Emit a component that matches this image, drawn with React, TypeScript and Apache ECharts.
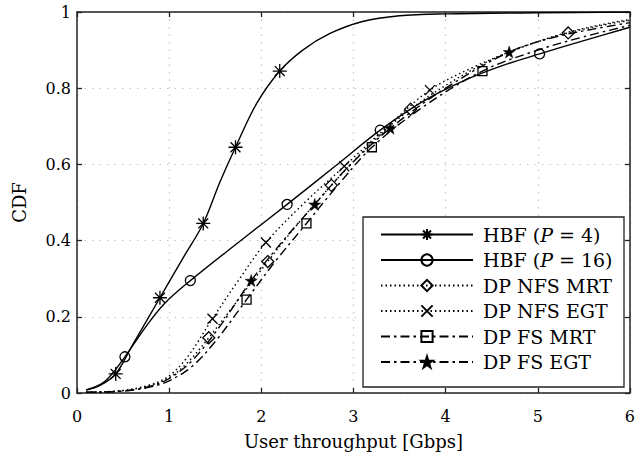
import React, { useEffect, useRef } from "react";
import * as echarts from "echarts";

// ---- Data ----
const seriesNames = [
  "HBF (P = 4)",
  "HBF (P = 16)",
  "DP NFS MRT",
  "DP NFS EGT",
  "DP FS MRT",
  "DP FS EGT",
];

const hbf4X = [0.1, 0.25, 0.42, 0.6, 0.9, 1.15, 1.37, 1.55, 1.72, 1.95, 2.2, 2.45, 2.74, 3.1, 3.5, 4.0, 5.0, 6.0];
const hbf4Y = [0.008, 0.02, 0.05, 0.125, 0.25, 0.354, 0.445, 0.553, 0.645, 0.76, 0.845, 0.9, 0.943, 0.975, 0.99, 0.995, 0.998, 1.0];
const hbf4Marks = [2, 4, 6, 8, 10];

const hbf16X = [0.1, 0.3, 0.52, 0.75, 0.95, 1.23, 1.75, 2.28, 2.8, 3.29, 3.75, 4.2, 4.6, 5.02, 5.5, 6.0];
const hbf16Y = [0.008, 0.03, 0.095, 0.175, 0.235, 0.295, 0.395, 0.495, 0.595, 0.69, 0.765, 0.82, 0.858, 0.89, 0.925, 0.96];
const hbf16Marks = [2, 5, 7, 9, 13];

const nfsMrtX = [0.1, 0.5, 0.8, 1.0, 1.2, 1.43, 1.75, 2.07, 2.4, 2.76, 3.15, 3.62, 4.3, 4.8, 5.33, 5.8, 6.0];
const nfsMrtY = [0.002, 0.006, 0.02, 0.04, 0.08, 0.145, 0.245, 0.345, 0.445, 0.545, 0.645, 0.745, 0.85, 0.905, 0.945, 0.97, 0.978];
const nfsMrtMarks = [5, 7, 9, 11, 14];

const nfsEgtX = [0.1, 0.5, 0.8, 1.0, 1.2, 1.47, 1.75, 2.05, 2.45, 2.9, 3.35, 3.83, 4.3, 4.8, 5.3, 5.8, 6.0];
const nfsEgtY = [0.002, 0.007, 0.022, 0.045, 0.095, 0.195, 0.295, 0.395, 0.495, 0.595, 0.695, 0.795, 0.855, 0.905, 0.945, 0.972, 0.98];
const nfsEgtMarks = [5, 7, 9, 11];

const fsMrtX = [0.1, 0.5, 0.8, 1.0, 1.25, 1.5, 1.84, 2.15, 2.49, 2.83, 3.2, 3.75, 4.4, 5.0, 5.5, 6.0];
const fsMrtY = [0.002, 0.005, 0.016, 0.032, 0.07, 0.135, 0.245, 0.345, 0.445, 0.545, 0.645, 0.75, 0.845, 0.9, 0.935, 0.965];
const fsMrtMarks = [6, 8, 10, 12];

const fsEgtX = [0.1, 0.5, 0.8, 1.0, 1.25, 1.55, 1.89, 2.22, 2.58, 2.95, 3.4, 4.0, 4.69, 5.2, 5.6, 6.0];
const fsEgtY = [0.002, 0.005, 0.018, 0.038, 0.085, 0.175, 0.295, 0.395, 0.495, 0.595, 0.695, 0.8, 0.895, 0.935, 0.955, 0.972];
const fsEgtMarks = [6, 8, 10, 12];

const xTicks = [0, 1, 2, 3, 4, 5, 6];
const yTicks = [0, 0.2, 0.4, 0.6, 0.8, 1];

// ---- Symbols ----
const ASTERISK = "path://M0,-10L0,10M-10,0L10,0M-7.07,-7.07L7.07,7.07M-7.07,7.07L7.07,-7.07";
const CROSS = "path://M-10,-10L10,10M-10,10L10,-10";
const STAR =
  "path://M0,-1L0.2235,-0.3074L0.951,-0.309L0.3614,0.1174L0.588,0.809L0,0.38L-0.588,0.809L-0.3614,0.1174L-0.951,-0.309L-0.2235,-0.3074Z";

const FONT = "DejaVu Serif";

function build(xs: number[], ys: number[], marks: number[]) {
  return xs.map((x, i) =>
    marks.includes(i) ? { value: [x, ys[i]] } : { value: [x, ys[i]], symbol: "none" }
  );
}

function makeSeries(
  name: string,
  xs: number[],
  ys: number[],
  marks: number[],
  symbol: string,
  symbolSize: number,
  lineType: any,
  filled: boolean
) {
  return {
    name,
    type: "line",
    data: build(xs, ys, marks),
    smooth: 0.35,
    symbol,
    symbolSize,
    showAllSymbol: true,
    lineStyle: { color: "#000", width: 1.4, type: lineType },
    itemStyle: {
      color: filled ? "#000" : "rgba(0,0,0,0)",
      borderColor: "#000",
      borderWidth: filled ? 0.5 : 1.3,
    },
    emphasis: { disabled: true },
    z: 2,
  };
}

export default function App() {
  const ref = useRef<HTMLDivElement>(null);

  useEffect(() => {
    if (!ref.current) return;
    const chart = echarts.init(ref.current, null, { renderer: "svg" });

    const axisCommon = {
      type: "value",
      axisLine: { show: true, onZero: false, lineStyle: { color: "#222", width: 1.5 } },
      axisTick: { show: true, inside: true, length: 5, lineStyle: { color: "#222", width: 1.3 } },
    };

    const option: any = {
      animation: false,
      backgroundColor: "#fff",
      textStyle: { fontFamily: FONT, color: "#000" },
      grid: { left: 77, right: 8, top: 12, bottom: 62 },
      xAxis: [
        {
          ...axisCommon,
          min: xTicks[0],
          max: xTicks[xTicks.length - 1],
          interval: 1,
          position: "bottom",
          name: "User throughput [Gbps]",
          nameLocation: "middle",
          nameGap: 39,
          nameTextStyle: { fontFamily: FONT, fontSize: 18, color: "#000" },
          axisLabel: { margin: 15, fontFamily: FONT, fontSize: 16, color: "#000" },
          splitLine: { show: true, lineStyle: { color: "#c4c4c4", width: 1.2, type: [1.5, 6] } },
        },
        {
          ...axisCommon,
          min: xTicks[0],
          max: xTicks[xTicks.length - 1],
          interval: 1,
          position: "top",
          axisLabel: { show: false },
          splitLine: { show: false },
        },
      ],
      yAxis: [
        {
          ...axisCommon,
          min: yTicks[0],
          max: yTicks[yTicks.length - 1],
          interval: 0.2,
          position: "left",
          name: "CDF",
          nameLocation: "middle",
          nameGap: 49,
          nameTextStyle: { fontFamily: FONT, fontSize: 18, color: "#000" },
          axisLabel: { margin: 6, fontFamily: FONT, fontSize: 16, color: "#000" },
          splitLine: { show: true, lineStyle: { color: "#c4c4c4", width: 1.2, type: [1.5, 6] } },
        },
        {
          ...axisCommon,
          min: yTicks[0],
          max: yTicks[yTicks.length - 1],
          interval: 0.2,
          position: "right",
          axisLabel: { show: false },
          splitLine: { show: false },
        },
      ],
      graphic: [
        {
          type: "rect",
          z: 3,
          shape: { x: 363, y: 217, width: 261, height: 170 },
          style: { fill: "#fff", stroke: "#222", lineWidth: 1.3 },
        },
      ],
      legend: {
        orient: "vertical",
        left: 380,
        top: 225,
        padding: 0,
        itemWidth: 92,
        itemHeight: 14,
        itemGap: 6.5,
        z: 10,
        data: seriesNames,
        formatter: (name: string) =>
          name.startsWith("HBF") ? name.replace("(P", "({i|P}") : name,
        textStyle: {
          fontFamily: FONT,
          fontSize: 19,
          color: "#000",
          padding: [0, 0, 0, 5],
          rich: {
            i: { fontFamily: FONT, fontSize: 19, fontStyle: "italic", color: "#000" },
          },
        },
      },
      series: [
        makeSeries(seriesNames[0], hbf4X, hbf4Y, hbf4Marks, ASTERISK, 14, "solid", false),
        makeSeries(seriesNames[1], hbf16X, hbf16Y, hbf16Marks, "circle", 10, "solid", false),
        makeSeries(seriesNames[2], nfsMrtX, nfsMrtY, nfsMrtMarks, "diamond", 12, [1.5, 3], false),
        makeSeries(seriesNames[3], nfsEgtX, nfsEgtY, nfsEgtMarks, CROSS, 10, [1.5, 3], false),
        makeSeries(seriesNames[4], fsMrtX, fsMrtY, fsMrtMarks, "rect", 9, [9, 4, 2.5, 4], false),
        makeSeries(seriesNames[5], fsEgtX, fsEgtY, fsEgtMarks, STAR, 12, [9, 4, 2.5, 4], true),
      ],
    };

    chart.setOption(option);
    return () => chart.dispose();
  }, []);

  return (
    <div
      ref={ref}
      style={{ position: "absolute", left: 0, top: 0, width: 638, height: 455 }}
    />
  );
}
